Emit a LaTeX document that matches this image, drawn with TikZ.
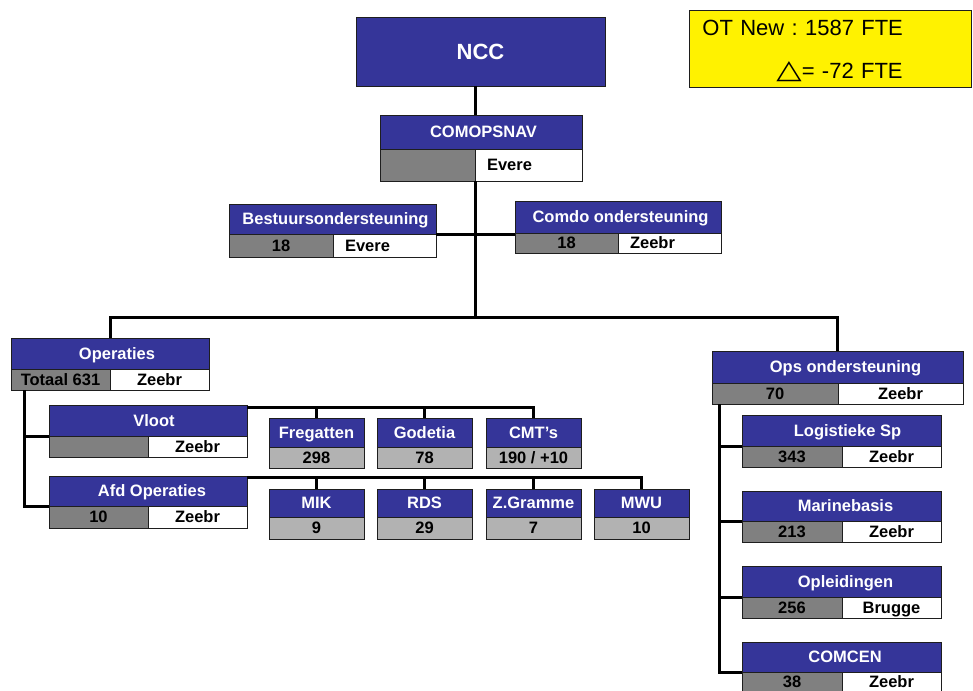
\documentclass[tikz,border=0pt]{standalone}
\usepackage{fontspec}
\setmainfont{Liberation Sans}
\newfontfamily\symfont{DejaVu Sans}
\definecolor{navy}{RGB}{53,53,153}
\definecolor{dgray}{RGB}{128,128,128}
\definecolor{lgray}{RGB}{178,178,178}
\definecolor{bordc}{RGB}{30,30,30}
\newcommand\ubox[7]{\node[#1, minimum width={(#5-#3)*1pt}, minimum height={(#6-#4)*1pt}] (#2) at (#3,#4) {#7};}
\begin{document}
\frenchspacing
\begin{tikzpicture}[x=1pt,y=-1pt,
  box/.style={draw=bordc, line width=0.8pt, inner sep=0pt, outer sep=0pt, anchor=north west,
    text height=11.8pt, text depth=0pt,
    font=\bfseries\fontsize{16.5}{18}\selectfont},
  hdrbox/.style={box, fill=navy, text=white},
  cellg/.style={box, fill=dgray},
  cellw/.style={box, fill=white},
  cellwl/.style={box, fill=white, align=left},
  celll/.style={box, fill=lgray},
  conn/.style={line width=3pt, black}]
\useasboundingbox (0,0) rectangle (973,690);
\clip (0,0) rectangle (973,690);

% top
\node[hdrbox, font=\bfseries\fontsize{22}{24}\selectfont, text height=15.8pt, minimum width=249pt, minimum height=69pt] (ncc) at (356,17) {NCC};
\node[draw=bordc, line width=0.8pt, fill=yellow, anchor=north west, minimum width=282pt, minimum height=77pt,
  inner xsep=13pt, inner ysep=0pt, text width=256pt, align=left, text height=20pt,
  font=\fontsize{22}{43}\selectfont] (ot) at (689,10) {OT New :\ 1587 FTE\\\hspace*{74pt}\scalebox{1.5}[1.2]{\symfont △}= -72 FTE};

% COMOPSNAV
\ubox{hdrbox}{comops}{380}{115}{582}{149}{\hspace*{5pt}COMOPSNAV}
\ubox{cellg}{comops-l}{380}{149}{475}{181}{}
\ubox{cellwl, text width=83pt}{comops-r}{475}{149}{582}{181}{Evere}

% staff
\ubox{hdrbox}{best}{229}{204}{436}{234}{\hspace*{6pt}Bestuursondersteuning}
\ubox{cellg}{best-l}{229}{234}{333}{257}{18}
\ubox{cellwl, text width=79pt}{best-r}{333}{234}{436}{257}{Evere}
\ubox{hdrbox}{comdo}{515}{201}{721}{233}{\hspace*{5pt}Comdo ondersteuning}
\ubox{cellg}{comdo-l}{515}{233}{618}{253}{18}
\ubox{cellwl, text width=79pt}{comdo-r}{618}{233}{721}{253}{Zeebr}

% Operaties
\ubox{hdrbox}{opr}{11}{338}{209}{369}{\hspace*{14pt}Operaties}
\ubox{cellg}{opr-l}{11}{369}{110}{390}{Totaal 631}
\ubox{cellw}{opr-r}{110}{369}{209}{390}{Zeebr}
\ubox{hdrbox}{vloot}{49}{405}{247}{436}{\hspace*{12pt}Vloot}
\ubox{cellg}{vloot-l}{49}{436}{148}{457}{}
\ubox{cellw}{vloot-r}{148}{436}{247}{457}{Zeebr}
\ubox{hdrbox}{afd}{49}{476}{247}{506}{\hspace*{8pt}Afd Operaties}
\ubox{cellg}{afd-l}{49}{506}{148}{528}{10}
\ubox{cellw}{afd-r}{148}{506}{247}{528}{Zeebr}

% small units
\ubox{hdrbox}{freg}{269}{418}{364}{447}{Fregatten}
\ubox{celll}{freg-n}{269}{447}{364}{468}{298}
\ubox{hdrbox}{god}{377}{418}{472}{447}{Godetia}
\ubox{celll}{god-n}{377}{447}{472}{468}{78}
\ubox{hdrbox}{cmt}{486}{418}{581}{447}{CMT’s}
\ubox{celll}{cmt-n}{486}{447}{581}{468}{190 / +10}
\ubox{hdrbox}{mik}{269}{489}{364}{517}{MIK}
\ubox{celll}{mik-n}{269}{517}{364}{539}{9}
\ubox{hdrbox}{rds}{377}{489}{472}{517}{RDS}
\ubox{celll}{rds-n}{377}{517}{472}{539}{29}
\ubox{hdrbox}{zgr}{486}{489}{581}{517}{Z.Gramme}
\ubox{celll}{zgr-n}{486}{517}{581}{539}{7}
\ubox{hdrbox}{mwu}{594}{489}{689}{517}{MWU}
\ubox{celll}{mwu-n}{594}{517}{689}{539}{10}

% Ops ondersteuning
\ubox{hdrbox}{ond}{712}{351}{963}{383}{\hspace*{16pt}Ops ondersteuning}
\ubox{cellg}{ond-l}{712}{383}{838}{404}{70}
\ubox{cellw}{ond-r}{838}{383}{963}{404}{Zeebr}
\ubox{hdrbox}{log}{742}{415}{941}{446}{\hspace*{12pt}Logistieke Sp}
\ubox{cellg}{log-l}{742}{446}{842}{467}{343}
\ubox{cellw}{log-r}{842}{446}{941}{467}{Zeebr}
\ubox{hdrbox}{mar}{742}{491}{941}{521}{\hspace*{8pt}Marinebasis}
\ubox{cellg}{mar-l}{742}{521}{842}{542}{213}
\ubox{cellw}{mar-r}{842}{521}{941}{542}{Zeebr}
\ubox{hdrbox}{opl}{742}{566}{941}{597}{\hspace*{8pt}Opleidingen}
\ubox{cellg}{opl-l}{742}{597}{842}{618}{256}
\ubox{cellw}{opl-r}{842}{597}{941}{618}{Brugge}
\ubox{hdrbox}{comcen}{742}{642}{941}{672}{\hspace*{7pt}COMCEN}
\ubox{cellg}{comcen-l}{742}{672}{842}{692}{38}
\ubox{cellw}{comcen-r}{842}{672}{941}{692}{Zeebr}

% connectors
\coordinate (bus) at (475,317);
\coordinate (ostem) at (24,390);
\coordinate (rstem) at (719,404);
\coordinate (vbus) at (0,407);
\coordinate (abus) at (0,477);
\draw[conn] (ncc.south -| comops-l.east) -- (comops.north -| comops-l.east);
\draw[conn] (comops-l.south east) -- (bus);
\draw[conn] (opr.north) |- (ond.north |- bus) -- (ond.north);
\draw[conn] (best-r.north east) -- (best-r.north east -| comdo-l.west);
\draw[conn] (ostem) |- (afd-l.north west);
\draw[conn] (ostem |- vloot-l.north west) -- (vloot-l.north west);
\draw[conn] (vloot.east |- vbus) -| (cmt.north);
\draw[conn] (freg.north) -- (freg.north |- vbus);
\draw[conn] (god.north) -- (god.north |- vbus);
\draw[conn] (afd.east |- abus) -| (mwu.north);
\draw[conn] (mik.north) -- (mik.north |- abus);
\draw[conn] (rds.north) -- (rds.north |- abus);
\draw[conn] (zgr.north) -- (zgr.north |- abus);
\draw[conn] (rstem) |- (comcen-l.north west);
\draw[conn] (rstem |- log-l.north west) -- (log-l.north west);
\draw[conn] (rstem |- mar-l.north west) -- (mar-l.north west);
\draw[conn] (rstem |- opl-l.north west) -- (opl-l.north west);
\end{tikzpicture}
\end{document}
